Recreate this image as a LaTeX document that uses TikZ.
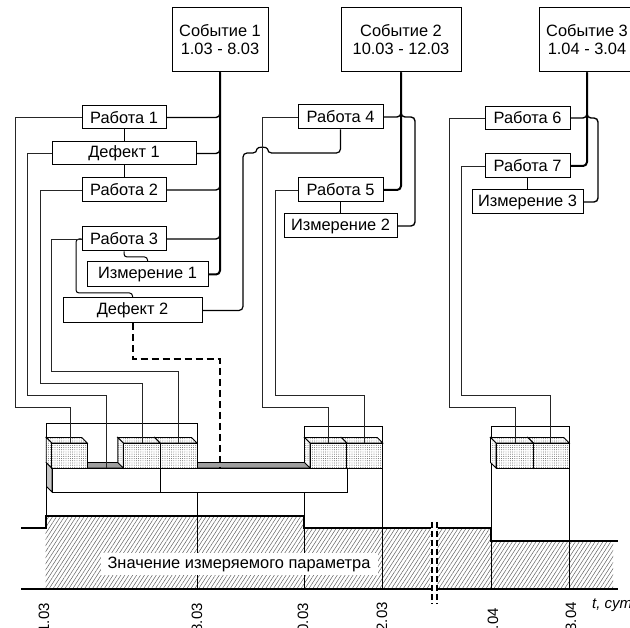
\documentclass[tikz,border=0pt]{standalone}
\usepackage{fontspec}
\setmainfont{Liberation Sans}
\usetikzlibrary{patterns,patterns.meta}
\newcommand\mycube[2]{%
  \path[dotface] (#1-5.5,437.5) -- (#2-5.5,437.5) -- (#2,443) -- (#1,443) -- cycle;
  \path[dotface] (#1-5.5,437.5) -- (#1,443) -- (#1,468) -- (#1-5.5,462.5) -- cycle;
  \path[dotface] (#1,443) rectangle (#2,468);
}
\begin{document}
\begin{tikzpicture}[x=1pt,y=-1pt,
  box/.style={draw,line width=1pt,fill=white,inner sep=0pt,align=center,font=\fontsize{16.4}{18}\selectfont},
  trunk/.style={line width=2pt,rounded corners=4pt},
  link/.style={line width=1.4pt,rounded corners=4pt},
  tie/.style={line width=1pt,rounded corners=3pt},
  lead/.style={line width=0.8pt,black!85},
  win/.style={line width=0.9pt},
  dotface/.style={draw,line width=0.9pt,preaction={fill=white},pattern={Dots[radius=0.45pt,distance=2.2pt]},pattern color=black!70},
  bartop/.style={draw,line width=0.9pt,fill=black!38},
  barleft/.style={draw,line width=0.9pt,fill=black!22},
  hatch/.style={pattern={Lines[angle=57,distance=3.3pt,line width=0.5pt]},pattern color=black!62},
  stepln/.style={line width=2pt},
  baseln/.style={line width=2.8pt},
  brk/.style={line width=2pt,dash pattern=on 6pt off 3pt},
  axlbl/.style={rotate=90,anchor=east,inner sep=0pt,font=\fontsize{15}{15}\selectfont},
  dashln/.style={line width=2pt,dash pattern=on 7pt off 4pt}
]
\useasboundingbox (0,0) rectangle (630,628);
\clip (0,0) rectangle (630,628);
% hatched parameter area
\fill[hatch] (45.7,589) -- (45.7,516) -- (304.3,516) -- (304.3,528) -- (430.5,528) -- (430.5,589) -- cycle;
\fill[hatch] (437.5,589) -- (437.5,528) -- (491,528) -- (491,541) -- (613,541) -- (613,589) -- cycle;
% event windows
\draw[win] (46,517) -- (46,423) -- (197,423) -- (197,589);
\draw[win] (304.3,589) -- (304.3,426) -- (382.7,426) -- (382.7,589);
\draw[win] (491,589) -- (491,426) -- (569.3,426) -- (569.3,589);
% value label
\node[fill=white,inner sep=0pt,minimum width=277pt,minimum height=21pt,font=\fontsize{16.4}{18}\selectfont] (val) at (239,564) {Значение измеряемого параметра};
% bar
\path[barleft] (46.5,462.5) -- (52,468) -- (52,492) -- (46.5,486.5) -- cycle;
\path[bartop] (46.5,462.5) -- (341.5,462.5) -- (347,468) -- (52,468) -- cycle;
\draw[line width=0.9pt,fill=white] (52,468) rectangle (347,492);
\draw[line width=0.9pt] (160,468) -- (160,492);
% cubes
\mycube{160}{197}
\mycube{123.3}{160}
\mycube{51.7}{87.3}
\mycube{346.7}{382.7}
\mycube{310}{346.7}
\mycube{533.3}{569.3}
\mycube{496}{533.3}
% step line and axis
\draw[stepln] (21,528) -- (45.7,528) -- (45.7,516) -- (304.3,516) -- (304.3,528) -- (430.5,528);
\draw[stepln] (437.5,528) -- (491,528) -- (491,541) -- (618,541);
\draw[baseln] (21,589) -- (430.5,589);
\draw[baseln] (437.5,589) -- (618,589);
\draw[brk] (431.8,522) -- (431.8,604);
\draw[brk] (436.6,522) -- (436.6,604);
% axis labels
\node[axlbl] (t1) at (44,603) {1.03};
\node[axlbl] (t2) at (197,603) {8.03};
\node[axlbl] (t3) at (303,603) {10.03};
\node[axlbl] (t4) at (382,602) {12.03};
\node[axlbl] (t5) at (493,608) {1.04};
\node[axlbl] (t6) at (571,602) {3.04};
\node[anchor=west,inner sep=0pt,font=\fontsize{15}{15}\itshape] (tl) at (592,605) {t, сут};
% events
\node[box,minimum width=96pt,minimum height=64pt] (e1) at (220,40) {Событие 1\\1.03 - 8.03};
\node[box,minimum width=120pt,minimum height=64pt] (e2) at (401,40) {Событие 2\\10.03 - 12.03};
\node[box,minimum width=96pt,minimum height=64pt] (e3) at (587,40) {Событие 3\\1.04 - 3.04};
% items
\node[box,minimum width=84pt,minimum height=23pt] (r1) at (124,117.5) {Работа 1};
\node[box,minimum width=144pt,minimum height=23pt] (d1) at (124,153.5) {Дефект 1};
\node[box,minimum width=84pt,minimum height=24pt] (r2) at (124,190) {Работа 2};
\node[box,minimum width=84pt,minimum height=24pt] (r3) at (124,239) {Работа 3};
\node[box,minimum width=121pt,minimum height=25pt] (m1) at (147.5,274.5) {Измерение 1};
\node[box,minimum width=139pt,minimum height=25pt] (d2) at (132.5,310.5) {Дефект 2};
\node[box,minimum width=85pt,minimum height=24pt] (r4) at (340.5,117) {Работа 4};
\node[box,minimum width=85pt,minimum height=24pt] (r5) at (340.5,190) {Работа 5};
\node[box,minimum width=113pt,minimum height=24pt] (m2) at (340.5,226) {Измерение 2};
\node[box,minimum width=85pt,minimum height=23pt] (r6) at (527.5,118) {Работа 6};
\node[box,minimum width=85pt,minimum height=24pt] (r7) at (527.5,166) {Работа 7};
\node[box,minimum width=111pt,minimum height=24pt] (m3) at (527.5,202) {Измерение 3};
% trunks and links
\draw[trunk] (e1.south) |- (m1.east);
\draw[link] (r1.east) -| (e1.south);
\draw[link] (d1.east) -| (e1.south);
\draw[link] (r2.east) -| (e1.south);
\draw[link] (r3.east) -| (e1.south);
\draw[trunk] (e2.south) |- (r5.east);
\draw[link] (r4.east) -| (e2.south);
\draw[link] (m2.east) -- (415,226) -- (415,117) -- (401,117) -- (e2.south);
\draw[trunk] (e3.south) |- (r7.east);
\draw[link] (r6.east) -| (e3.south);
\draw[link] (m3.east) -- (598,202) -- (598,118) -- (587,118) -- (e3.south);
% ties between items
\draw[tie] (r1.south) -- (d1.north);
\draw[tie] (d1.south) -- (r2.north);
\draw[tie] (r3.south) -- (124,257) -- (147.5,257) -- (m1.north);
\draw[tie] (r3.west) -- (76,239) -- (76,293) -- (132.5,293) -- (d2.north);
\draw[tie] (r5.south) -- (m2.north);
\draw[tie] (r7.south) -- (m3.north);
\draw[line width=1.2pt,rounded corners=4pt] (d2.east) -- (243,310.5) -- (243,153) -- (257,153) .. controls (257,146.5) and (267.5,146.5) .. (267.5,153) -- (340.5,153) -- (r4.south);
% leads to blocks
\coordinate (b1) at (70,443);
\coordinate (bb) at (106,468);
\coordinate (b2) at (142.3,443);
\coordinate (b3) at (178.3,443);
\coordinate (b4) at (328.3,443);
\coordinate (b5) at (364.3,443);
\coordinate (b6) at (515,443);
\coordinate (b7) at (550.7,443);
\draw[lead] (r1.west) -- (15.7,117.5) -- (15.7,407.3) -| (b1);
\draw[lead] (d1.west) -- (27.3,153.5) -- (27.3,395.7) -| (bb);
\draw[lead] (r2.west) -- (40,190) -- (40,383.3) -| (b2);
\draw[lead] (r3.west) -- (51.7,239) -- (51.7,371.7) -| (b3);
\draw[lead] (r4.west) -- (262.3,117) -- (262.3,407.3) -| (b4);
\draw[lead] (r5.west) -- (275.5,190) -- (275.5,395) -| (b5);
\draw[lead] (r6.west) -- (449,118) -- (449,407.3) -| (b6);
\draw[lead] (r7.west) -- (461.7,166) -- (461.7,395) -| (b7);
% defect 2 dashed link
\coordinate (bd) at (220,468);
\draw[dashln] (d2.south) |- (220,359.3) -- (bd);
\end{tikzpicture}
\end{document}
